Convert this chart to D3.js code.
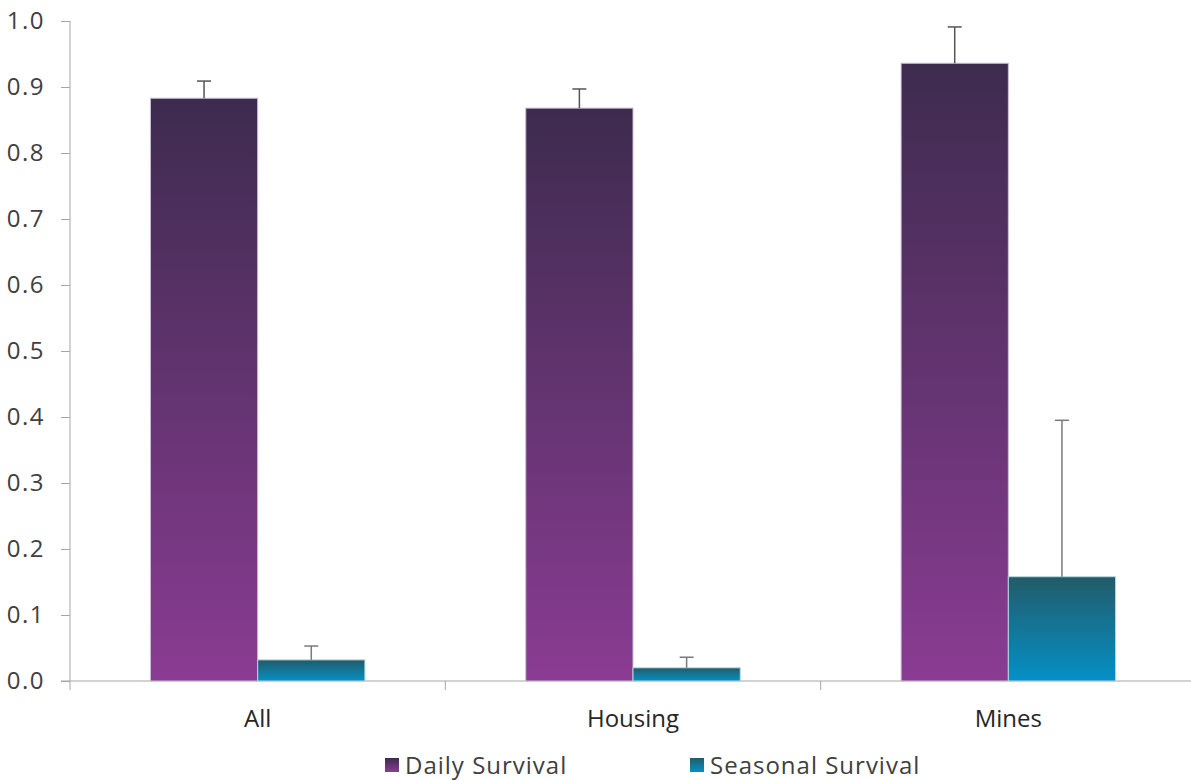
<!DOCTYPE html>
<html><head><meta charset="utf-8">
<script src="https://cdn.jsdelivr.net/npm/d3@7"></script>
<style>body{margin:0;background:#fff;} svg{display:block;}</style>
</head><body>
<svg id="c" width="1191" height="781"></svg>
<script>
const categories = ["All", "Housing", "Mines"];
const seriesNames = ["Daily Survival", "Seasonal Survival"];
const dailyValues = [0.883, 0.868, 0.936];
const dailyErrors = [0.026, 0.029, 0.055];
const seasonalValues = [0.032, 0.020, 0.158];
const seasonalErrors = [0.021, 0.016, 0.237];
const yTicks = [0, 0.1, 0.2, 0.3, 0.4, 0.5, 0.6, 0.7, 0.8, 0.9, 1.0];

const svg = d3.select("#c");
const font = "'Open Sans', 'Liberation Sans', sans-serif";
const x0 = d3.scaleBand().domain(categories).range([70, 1196]).paddingInner(0).paddingOuter(0);
const x1 = d3.scaleBand().domain(seriesNames).range([0, x0.bandwidth()]).paddingInner(0).paddingOuter(0.75);
const y = d3.scaleLinear().domain([0, 1]).range([681, 21]);

const defs = svg.append("defs");
const gradStops = {
  "Daily Survival": ["#3d2b4e", "#8a3c93"],
  "Seasonal Survival": ["#225b69", "#0590c6"]
};
const gradId = {};
seriesNames.forEach((s, i) => {
  const id = "g" + i; gradId[s] = id;
  const g = defs.append("linearGradient").attr("id", id).attr("x1", 0).attr("y1", 0).attr("x2", 0).attr("y2", 1);
  g.append("stop").attr("offset", "0%").attr("stop-color", gradStops[s][0]);
  g.append("stop").attr("offset", "100%").attr("stop-color", gradStops[s][1]);
});

// Y axis
const yAxis = svg.append("g").attr("transform", "translate(70,0)")
  .call(d3.axisLeft(y).tickValues(yTicks).tickFormat(d3.format(".1f")).tickSize(9).tickSizeOuter(0).tickPadding(16));
yAxis.select(".domain").attr("stroke", "#a6a6a6").attr("d", "M0,21V690");
yAxis.selectAll(".tick line").attr("stroke", "#a6a6a6");
yAxis.selectAll("text").attr("font-family", font).attr("font-size", 24).attr("letter-spacing", 1.5).attr("fill", "#404040");

// X axis
const xAxis = svg.append("g").attr("transform", "translate(0,681)")
  .call(d3.axisBottom(x0).tickSize(0).tickPadding(0));
xAxis.select(".domain").attr("stroke", "#a6a6a6").attr("d", "M61,0H1196");
xAxis.selectAll("text").attr("dy", null).attr("y", 46).attr("font-family", font).attr("font-size", 24).attr("fill", "#262626");
const boundaries = categories.map(c => x0(c) + x0.bandwidth()).slice(0, -1);
xAxis.selectAll(".bnd").data(boundaries).enter().append("line")
  .attr("x1", d => d).attr("x2", d => d).attr("y1", 0).attr("y2", 9).attr("stroke", "#a6a6a6");

// Bars
const rows = [];
categories.forEach((c, i) => {
  rows.push({c, s: seriesNames[0], v: dailyValues[i], e: dailyErrors[i]});
  rows.push({c, s: seriesNames[1], v: seasonalValues[i], e: seasonalErrors[i]});
});
const bars = svg.append("g");
bars.selectAll("rect").data(rows).enter().append("rect")
  .attr("x", d => x0(d.c) + x1(d.s))
  .attr("width", x1.bandwidth())
  .attr("y", d => y(d.v))
  .attr("height", d => y(0) - y(d.v))
  .attr("fill", d => "url(#" + gradId[d.s] + ")")
  .attr("stroke", d => d.s === seriesNames[0] ? "#cbbfd8" : "#b9d6de")
  .attr("stroke-width", 1);

// Error bars
const eb = svg.append("g");
rows.forEach(d => {
  const cx = x0(d.c) + x1(d.s) + x1.bandwidth() / 2;
  const col = d.s === seriesNames[0] ? "#555" : "#7a7a7a";
  eb.append("line").attr("x1", cx).attr("x2", cx).attr("y1", y(d.v)).attr("y2", y(d.v + d.e)).attr("stroke", col).attr("stroke-width", 1.5);
  eb.append("line").attr("x1", cx - 7).attr("x2", cx + 7).attr("y1", y(d.v + d.e)).attr("y2", y(d.v + d.e)).attr("stroke", col).attr("stroke-width", 1.5);
});

// Legend
const legX = [385, 690];
const leg = svg.append("g");
seriesNames.forEach((s, i) => {
  leg.append("rect").attr("x", legX[i]).attr("y", 758).attr("width", 14).attr("height", 14).attr("fill", "url(#" + gradId[s] + ")");
  leg.append("text").attr("x", legX[i] + 20).attr("y", 774).attr("font-family", font).attr("font-size", 24).attr("letter-spacing", 1).attr("fill", "#404040").text(s);
});
</script>
</body></html>
